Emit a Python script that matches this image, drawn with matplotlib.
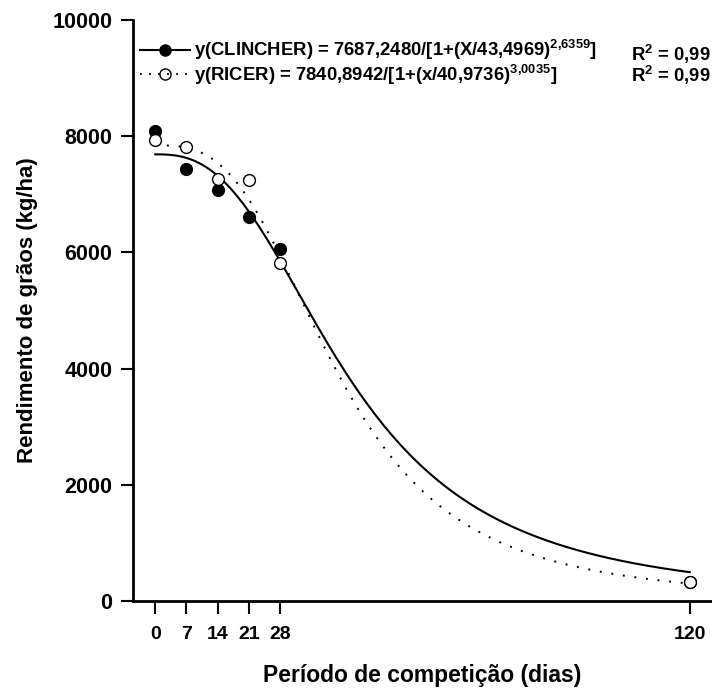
import numpy as np
import matplotlib
matplotlib.use("Agg")
import matplotlib.pyplot as plt
from matplotlib.lines import Line2D

plt.rcParams['font.family'] = ['Liberation Sans', 'DejaVu Sans']
plt.rcParams['font.weight'] = 'bold'
plt.rcParams['mathtext.fontset'] = 'custom'
plt.rcParams['mathtext.rm'] = 'Liberation Sans:bold'
plt.rcParams['mathtext.bf'] = 'Liberation Sans:bold'
plt.rcParams['mathtext.it'] = 'Liberation Sans:bold'

# observed yields (kg/ha) by competition period (days)
days = [0, 7, 14, 21, 28, 120]
clincher = [8090, 7435, 7075, 6600, 6055, 335]
ricer = [7935, 7820, 7255, 7240, 5815, 335]

# fitted log-logistic parameters a / [1 + (x/b)^c]
clincher_fit = [7687.2480, 43.4969, 2.6359]
ricer_fit = [7840.8942, 40.9736, 3.0035]

xticks = [0, 7, 14, 21, 28, 120]
yticks = [0, 2000, 4000, 6000, 8000, 10000]


def loglogistic(x, p):
    return p[0] / (1 + (x / p[1]) ** p[2])


fig = plt.figure(figsize=(7.12, 6.88), dpi=100)
ax = fig.add_axes([0.1868, 0.1265, 0.8132, 0.8445])

xs = np.linspace(0, 120, 400)
ax.plot(xs, loglogistic(xs, clincher_fit), color='black', lw=1.5, zorder=2)
ax.plot(xs, loglogistic(xs, ricer_fit), color='black', lw=1.4,
        linestyle=(0, (1, 5)), zorder=2)

ax.plot(days, clincher, 'o', color='black', ms=8.5, zorder=3)
ax.plot(days, ricer, 'o', mfc='white', mec='black', mew=1.0, ms=8.5, zorder=4)

ax.set_xlim(-5, 125)
ax.set_ylim(0, 10000)
ax.set_xticks(xticks)
ax.set_yticks(yticks)
ax.tick_params(axis='both', direction='out', length=9, width=1.5)
ax.tick_params(axis='y', labelsize=15.5, pad=6)
ax.tick_params(axis='x', labelsize=14, pad=9)
for lab in ax.get_xticklabels() + ax.get_yticklabels():
    lab.set_fontweight('bold')

for s in ['top', 'right']:
    ax.spines[s].set_visible(False)
for s in ['left', 'bottom']:
    ax.spines[s].set_linewidth(2)

ax.set_ylabel('Rendimento de grãos (kg/ha)', fontsize=16, fontweight='bold',
              labelpad=10)
ax.set_xlabel('Período de competição (dias)', fontsize=16.5, fontweight='bold',
              labelpad=15)

h1 = Line2D([], [], color='black', lw=1.5, marker='o', ms=8)
h2 = Line2D([], [], color='black', lw=1.3, linestyle=(0, (1, 4)),
            marker='o', mfc='none', mec='black', mew=1.0, ms=8)
lab1 = r'y(CLINCHER) = 7687,2480/[1+(X/43,4969)$^{2{,}6359}$]'
lab2 = r'y(RICER) = 7840,8942/[1+(x/40,9736)$^{3{,}0035}$]'
leg = ax.legend([h1, h2], [lab1, lab2], loc='upper left',
                bbox_to_anchor=(0.0, 0.981), frameon=False, fontsize=13.3,
                handlelength=2.7, handletextpad=0.2, labelspacing=0.0,
                borderaxespad=0.0)
for t in leg.get_texts():
    t.set_fontweight('bold')

ax.text(0.997, 0.941, r'R$^2$ = 0,99', transform=ax.transAxes, ha='right',
        va='center', fontsize=13.3, fontweight='bold')
ax.text(0.997, 0.904, r'R$^2$ = 0,99', transform=ax.transAxes, ha='right',
        va='center', fontsize=13.3, fontweight='bold')

fig.savefig('out.png', dpi=100)
